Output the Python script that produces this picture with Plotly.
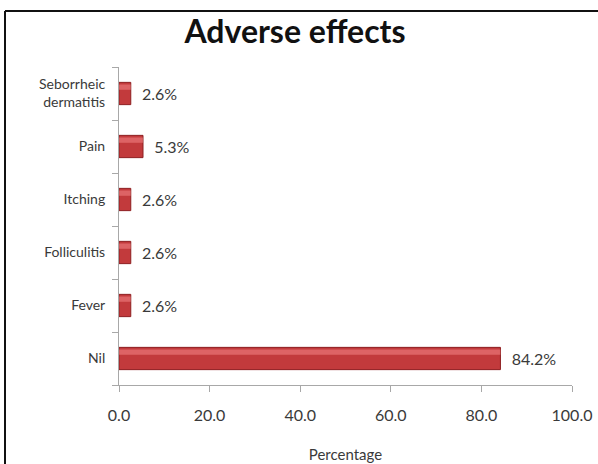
import plotly.graph_objects as go

# Adverse effects reported (percentage of patients)
categories = ["Nil", "Fever", "Folliculitis", "Itching", "Pain", "Seborrheic<br>dermatitis"]
percentages = [84.2, 2.6, 2.6, 2.6, 5.3, 2.6]
x_ticks = [0, 20, 40, 60, 80, 100]

W, H = 598, 464
L, R, T, B = 119, 26, 67, 79
pw, ph = W - L - R, H - T - B

font_family = "Lato, 'Open Sans', sans-serif"
text_color = "#3a3a3a"
axis_color = "#a8a8a8"

fig = go.Figure()
fig.add_trace(go.Bar(
    y=categories,
    x=percentages,
    orientation="h",
    width=0.42,
    marker=dict(color="#c23a3c", line=dict(color="#8e1e20", width=1)),
    text=[f"\u00a0\u00a0{v:.1f}%" for v in percentages],
    textposition="outside",
    textfont=dict(family=font_family, size=16, color=text_color),
    cliponaxis=False,
    hoverinfo="skip",
))
# lighter sheen along the upper part of each bar
fig.add_trace(go.Bar(
    y=categories,
    x=percentages,
    orientation="h",
    width=0.1,
    offset=0.07,
    marker=dict(color="rgba(255,150,150,0.45)", line=dict(width=0)),
    hoverinfo="skip",
))

# outer frame: left and top edges of the chart border
frame_left = (5 - L) / pw
frame_top = 1 + (T - 11) / ph
frame_right = 1 + R / pw
frame_bottom = -B / ph
frame = dict(type="line", xref="paper", yref="paper",
             line=dict(color="#111111", width=2), layer="below")
fig.add_shape(x0=frame_left, x1=frame_left, y0=frame_bottom, y1=frame_top, **frame)
fig.add_shape(x0=frame_left, x1=frame_right, y0=frame_top, y1=frame_top, **frame)

fig.update_layout(
    width=W, height=H,
    margin=dict(l=L, r=R, t=T, b=B, autoexpand=False),
    paper_bgcolor="white", plot_bgcolor="white",
    barmode="overlay",
    showlegend=False,
    title=dict(
        text="<b>Adverse effects</b>",
        x=295 / W, xanchor="center",
        y=1 - 32 / H, yanchor="middle",
        font=dict(family=font_family, size=32, color="#111111"),
    ),
    font=dict(family=font_family, size=14, color=text_color),
    xaxis=dict(
        range=[0, 100],
        tickvals=x_ticks,
        ticktext=[f"{v:.1f}" for v in x_ticks],
        showgrid=False, zeroline=False,
        showline=True, linecolor=axis_color, linewidth=1,
        ticks="outside", ticklen=6, tickcolor=axis_color,
        ticklabelstandoff=10,
        tickfont=dict(size=16, color=text_color),
        title=dict(text="Percentage", font=dict(size=15, color=text_color), standoff=26),
        automargin=False,
        fixedrange=True,
    ),
    yaxis=dict(
        showgrid=False, zeroline=False,
        showline=True, linecolor=axis_color, linewidth=1,
        ticks="outside", ticklen=6, tickcolor=axis_color,
        tickson="boundaries",
        ticklabelstandoff=10,
        tickfont=dict(size=14, color=text_color),
        automargin=False,
        fixedrange=True,
    ),
)

fig.write_html("out.html", config={"displayModeBar": False})
